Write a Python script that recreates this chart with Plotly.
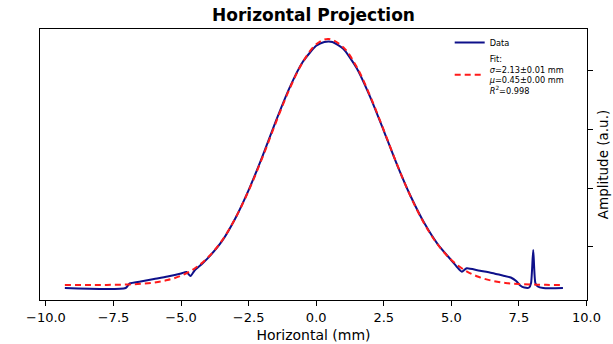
import plotly.graph_objects as go

data_x = [-9.3, -7.05, -6.9, -6.5, -6.0, -5.5, -5.0, -4.8, -4.65, -4.5, -4.2, -4.0, -3.5, -3.0,
          -2.5, -2.0, -1.5, -1.0, -0.5, 0.0, 0.3, 0.6, 1.0, 1.5, 2.0, 2.5, 3.0, 3.5, 4.0, 4.5,
          5.0, 5.2, 5.39, 5.57, 6.0, 6.5, 6.9, 7.2, 7.4, 7.55, 7.7, 7.88, 7.95, 8.03, 8.11,
          8.2, 8.4, 9.13]
data_y = [0.061, 0.061, 0.0763, 0.0831, 0.0915, 0.100, 0.1102, 0.1153, 0.1017, 0.1203, 0.145,
          0.163, 0.218, 0.296, 0.393, 0.505, 0.625, 0.737, 0.827, 0.882, 0.895, 0.895, 0.872,
          0.806, 0.708, 0.594, 0.477, 0.371, 0.281, 0.209, 0.155, 0.1332, 0.1163, 0.1278,
          0.1203, 0.1119, 0.1034, 0.0966, 0.0847, 0.0695, 0.0627, 0.0627, 0.078, 0.1898,
          0.078, 0.0661, 0.061, 0.061]

# Gaussian fit curve
fit_x = [-9.3, -8.5, -8.0, -7.5, -7.0, -6.5, -6.0, -5.5, -5.0, -4.5, -4.0, -3.5, -3.0, -2.5,
         -2.0, -1.5, -1.0, -0.5, 0.0, 0.45, 1.0, 1.5, 2.0, 2.5, 3.0, 3.5, 4.0, 4.5, 5.0, 5.5,
         6.0, 6.5, 7.0, 7.5, 8.0, 8.5, 9.1]
fit_y = [0.071, 0.071, 0.0713, 0.0718, 0.0728, 0.0751, 0.0795, 0.0878, 0.1026, 0.127, 0.165,
         0.220, 0.296, 0.391, 0.501, 0.620, 0.733, 0.826, 0.887, 0.905, 0.877, 0.810, 0.711,
         0.596, 0.478, 0.370, 0.279, 0.208, 0.156, 0.121, 0.099, 0.0858, 0.0783, 0.0745,
         0.0726, 0.0717, 0.071]

x_ticks = [-10.0, -7.5, -5.0, -2.5, 0.0, 2.5, 5.0, 7.5, 10.0]
y_ticks = [0.2, 0.4, 0.6, 0.8]

FONT = "DejaVu Sans"

fig = go.Figure()
fig.add_trace(go.Scatter(
    x=data_x, y=data_y, mode="lines", name="Data",
    line=dict(color="#0e108a", width=2, shape="spline", smoothing=0.6),
))
fig.add_trace(go.Scatter(
    x=fit_x, y=fit_y, mode="lines",
    name="Fit:<br><i>σ</i>=2.13±0.01 mm<br><i>μ</i>=0.45±0.00 mm<br><i>R</i><sup>2</sup>=0.998",
    line=dict(color="#ff1a1a", width=2, dash="6px,4px", shape="spline"),
))

fig.update_layout(
    width=613, height=344,
    margin=dict(l=40, r=26, t=29, b=44),
    paper_bgcolor="white", plot_bgcolor="white",
    font=dict(family=FONT, color="black", size=12),
    title=dict(text="<b>Horizontal Projection</b>", x=0.5, xref="paper",
               y=1 - 15 / 344, yanchor="middle", font=dict(size=17, family=FONT)),
    showlegend=True,
    legend=dict(x=0.749, y=1.004, xanchor="left", yanchor="top",
                bgcolor="rgba(255,255,255,0)", borderwidth=0,
                font=dict(size=8.2, family=FONT), tracegroupgap=0, itemwidth=30),
)
fig.update_xaxes(
    range=[-10.22, 10.02], tickvals=x_ticks, ticktext=[f"{v:.1f}".replace("-", "−") for v in x_ticks],
    ticks="outside", ticklen=5, tickcolor="black", showline=True, linecolor="black",
    linewidth=1, mirror=True, showgrid=False, zeroline=False, automargin=False,
    title=dict(text="Horizontal (mm)", standoff=6, font=dict(size=14)),
    tickfont=dict(size=13),
)
fig.update_yaxes(
    range=[0.0203, 0.939], side="right", tickvals=y_ticks, showticklabels=False,
    ticks="outside", ticklen=5, tickcolor="black", showline=True, linecolor="black",
    linewidth=1, mirror=True, showgrid=False, zeroline=False, automargin=False,
    title=dict(text="Amplitude (a.u.)", standoff=6, font=dict(size=13.5)),
)

fig.write_html("out.html")
